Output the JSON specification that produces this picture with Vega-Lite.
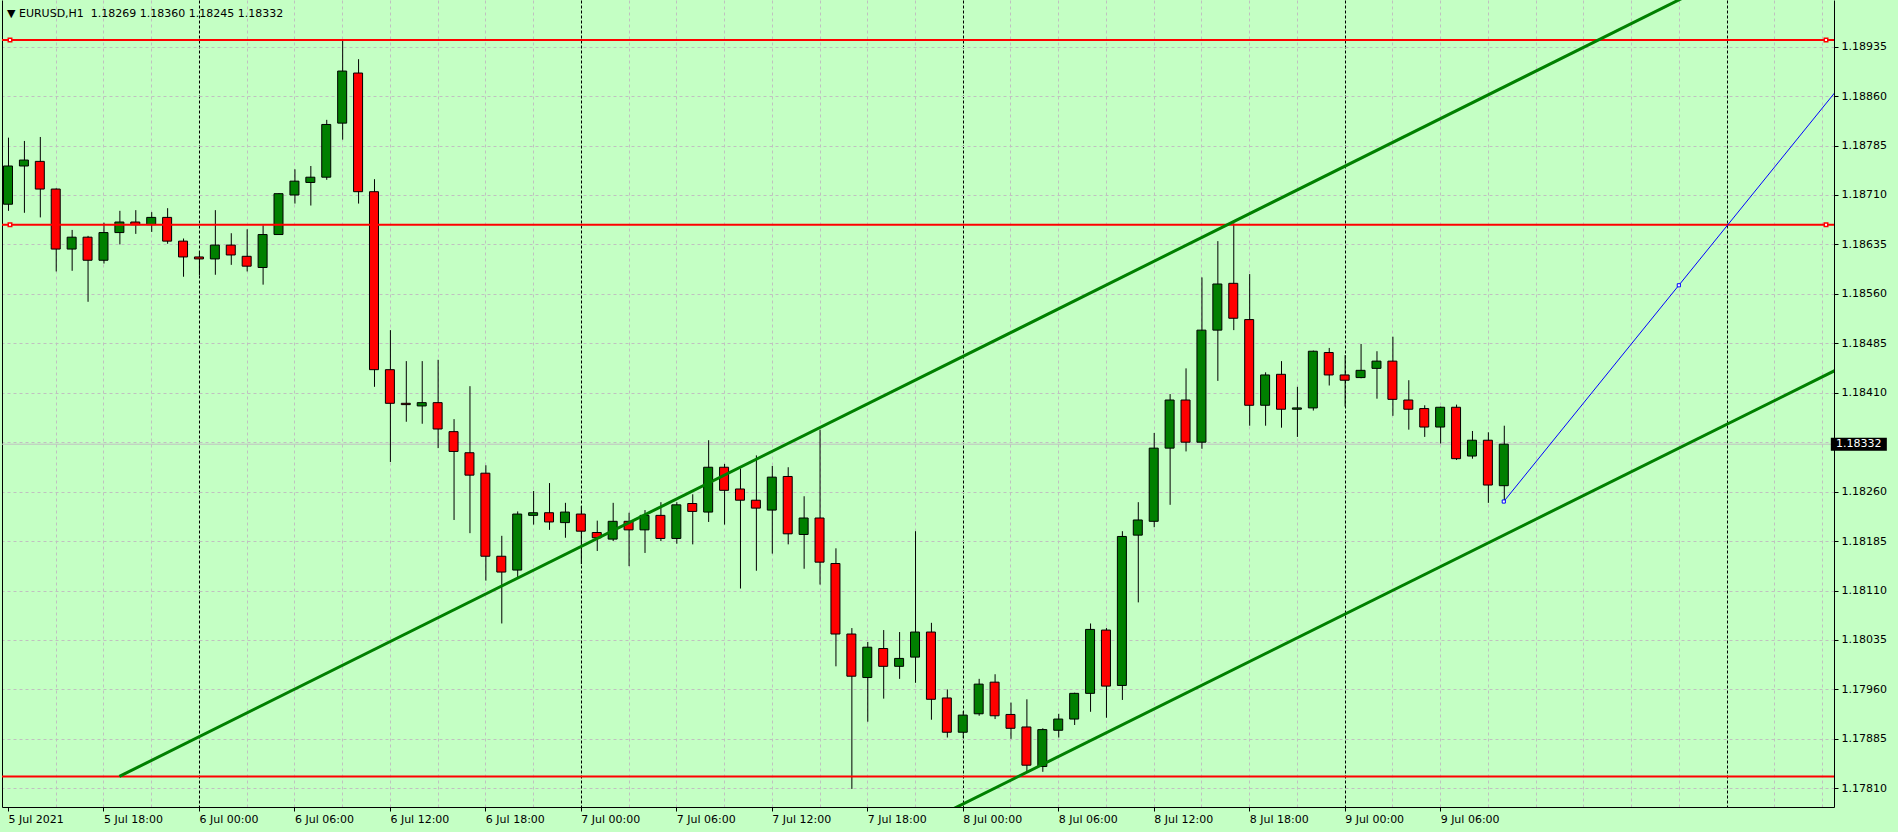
{
 "$schema": "https://vega.github.io/schema/vega-lite/v6.json",
 "width": 1832, "height": 807,
 "padding": {"left": 2, "top": 0, "right": 64, "bottom": 25},
 "autosize": {"type": "none"},
 "background": "#C4FFC4",
 "config": {"view": {"stroke": null}, "axis": {"labelFont": "DejaVu Sans", "labelFontSize": 11, "labelColor": "#000000"}},
 "title": {"text": "▼ EURUSD,H1\u00a0\u00a01.18269 1.18360 1.18245 1.18332", "anchor": "start", "frame": "group", "orient": "top", "offset": 0, "dx": 5, "dy": 28, "baseline": "alphabetic", "font": "DejaVu Sans", "fontSize": 11, "fontWeight": "normal", "color": "#000000"},
 "datasets": {
  "candles": [
   {"t":"2021-07-05T12:00Z","o":1.18696,"h":1.18797,"l":1.18686,"c":1.18754},
   {"t":"2021-07-05T13:00Z","o":1.18754,"h":1.18792,"l":1.18683,"c":1.18763},
   {"t":"2021-07-05T14:00Z","o":1.18761,"h":1.18798,"l":1.18676,"c":1.18719},
   {"t":"2021-07-05T15:00Z","o":1.18719,"h":1.18720,"l":1.18594,"c":1.18628},
   {"t":"2021-07-05T16:00Z","o":1.18628,"h":1.18657,"l":1.18595,"c":1.18646},
   {"t":"2021-07-05T17:00Z","o":1.18646,"h":1.18648,"l":1.18548,"c":1.18611},
   {"t":"2021-07-05T18:00Z","o":1.18611,"h":1.18668,"l":1.18606,"c":1.18653},
   {"t":"2021-07-05T19:00Z","o":1.18653,"h":1.18686,"l":1.18635,"c":1.18669},
   {"t":"2021-07-05T20:00Z","o":1.18669,"h":1.18687,"l":1.18651,"c":1.18665},
   {"t":"2021-07-05T21:00Z","o":1.18665,"h":1.18684,"l":1.18654,"c":1.18676},
   {"t":"2021-07-05T22:00Z","o":1.18676,"h":1.18690,"l":1.18636,"c":1.18640},
   {"t":"2021-07-05T23:00Z","o":1.18640,"h":1.18644,"l":1.18586,"c":1.18616},
   {"t":"2021-07-06T00:00Z","o":1.18616,"h":1.18625,"l":1.18588,"c":1.18613},
   {"t":"2021-07-06T01:00Z","o":1.18613,"h":1.18687,"l":1.18589,"c":1.18634},
   {"t":"2021-07-06T02:00Z","o":1.18634,"h":1.18652,"l":1.18604,"c":1.18619},
   {"t":"2021-07-06T03:00Z","o":1.18617,"h":1.18658,"l":1.18594,"c":1.18602},
   {"t":"2021-07-06T04:00Z","o":1.18600,"h":1.18664,"l":1.18574,"c":1.18650},
   {"t":"2021-07-06T05:00Z","o":1.18650,"h":1.18713,"l":1.18650,"c":1.18712},
   {"t":"2021-07-06T06:00Z","o":1.18710,"h":1.18749,"l":1.18697,"c":1.18731},
   {"t":"2021-07-06T07:00Z","o":1.18729,"h":1.18754,"l":1.18694,"c":1.18737},
   {"t":"2021-07-06T08:00Z","o":1.18737,"h":1.18824,"l":1.18733,"c":1.18817},
   {"t":"2021-07-06T09:00Z","o":1.18819,"h":1.18944,"l":1.18794,"c":1.18898},
   {"t":"2021-07-06T10:00Z","o":1.18895,"h":1.18916,"l":1.18697,"c":1.18715},
   {"t":"2021-07-06T11:00Z","o":1.18715,"h":1.18734,"l":1.18419,"c":1.18445},
   {"t":"2021-07-06T12:00Z","o":1.18445,"h":1.18505,"l":1.18305,"c":1.18394},
   {"t":"2021-07-06T13:00Z","o":1.18394,"h":1.18458,"l":1.18366,"c":1.18392},
   {"t":"2021-07-06T14:00Z","o":1.18390,"h":1.18458,"l":1.18363,"c":1.18395},
   {"t":"2021-07-06T15:00Z","o":1.18395,"h":1.18460,"l":1.18326,"c":1.18355},
   {"t":"2021-07-06T16:00Z","o":1.18351,"h":1.18370,"l":1.18217,"c":1.18321},
   {"t":"2021-07-06T17:00Z","o":1.18319,"h":1.18420,"l":1.18197,"c":1.18285},
   {"t":"2021-07-06T18:00Z","o":1.18288,"h":1.18300,"l":1.18125,"c":1.18162},
   {"t":"2021-07-06T19:00Z","o":1.18162,"h":1.18193,"l":1.18060,"c":1.18138},
   {"t":"2021-07-06T20:00Z","o":1.18141,"h":1.18230,"l":1.18130,"c":1.18226},
   {"t":"2021-07-06T21:00Z","o":1.18224,"h":1.18261,"l":1.18210,"c":1.18228},
   {"t":"2021-07-06T22:00Z","o":1.18228,"h":1.18273,"l":1.18202,"c":1.18214},
   {"t":"2021-07-06T23:00Z","o":1.18213,"h":1.18243,"l":1.18190,"c":1.18229},
   {"t":"2021-07-07T00:00Z","o":1.18226,"h":1.18238,"l":1.18150,"c":1.18200},
   {"t":"2021-07-07T01:00Z","o":1.18198,"h":1.18216,"l":1.18170,"c":1.18190},
   {"t":"2021-07-07T02:00Z","o":1.18188,"h":1.18243,"l":1.18185,"c":1.18215},
   {"t":"2021-07-07T03:00Z","o":1.18215,"h":1.18228,"l":1.18147,"c":1.18202},
   {"t":"2021-07-07T04:00Z","o":1.18202,"h":1.18232,"l":1.18167,"c":1.18224},
   {"t":"2021-07-07T05:00Z","o":1.18224,"h":1.18244,"l":1.18185,"c":1.18189},
   {"t":"2021-07-07T06:00Z","o":1.18189,"h":1.18244,"l":1.18181,"c":1.18240},
   {"t":"2021-07-07T07:00Z","o":1.18242,"h":1.18256,"l":1.18180,"c":1.18230},
   {"t":"2021-07-07T08:00Z","o":1.18229,"h":1.18338,"l":1.18214,"c":1.18297},
   {"t":"2021-07-07T09:00Z","o":1.18297,"h":1.18302,"l":1.18210,"c":1.18262},
   {"t":"2021-07-07T10:00Z","o":1.18264,"h":1.18295,"l":1.18113,"c":1.18247},
   {"t":"2021-07-07T11:00Z","o":1.18247,"h":1.18315,"l":1.18140,"c":1.18235},
   {"t":"2021-07-07T12:00Z","o":1.18232,"h":1.18299,"l":1.18166,"c":1.18282},
   {"t":"2021-07-07T13:00Z","o":1.18283,"h":1.18297,"l":1.18180,"c":1.18196},
   {"t":"2021-07-07T14:00Z","o":1.18195,"h":1.18253,"l":1.18143,"c":1.18220},
   {"t":"2021-07-07T15:00Z","o":1.18220,"h":1.18354,"l":1.18119,"c":1.18153},
   {"t":"2021-07-07T16:00Z","o":1.18151,"h":1.18174,"l":1.17995,"c":1.18044},
   {"t":"2021-07-07T17:00Z","o":1.18044,"h":1.18053,"l":1.17809,"c":1.17980},
   {"t":"2021-07-07T18:00Z","o":1.17978,"h":1.18032,"l":1.17911,"c":1.18024},
   {"t":"2021-07-07T19:00Z","o":1.18022,"h":1.18050,"l":1.17946,"c":1.17995},
   {"t":"2021-07-07T20:00Z","o":1.17995,"h":1.18047,"l":1.17976,"c":1.18007},
   {"t":"2021-07-07T21:00Z","o":1.18009,"h":1.18200,"l":1.17970,"c":1.18047},
   {"t":"2021-07-07T22:00Z","o":1.18047,"h":1.18061,"l":1.17914,"c":1.17945},
   {"t":"2021-07-07T23:00Z","o":1.17947,"h":1.17960,"l":1.17887,"c":1.17895},
   {"t":"2021-07-08T00:00Z","o":1.17895,"h":1.17927,"l":1.17886,"c":1.17921},
   {"t":"2021-07-08T01:00Z","o":1.17923,"h":1.17976,"l":1.17920,"c":1.17968},
   {"t":"2021-07-08T02:00Z","o":1.17971,"h":1.17983,"l":1.17915,"c":1.17920},
   {"t":"2021-07-08T03:00Z","o":1.17922,"h":1.17940,"l":1.17885,"c":1.17901},
   {"t":"2021-07-08T04:00Z","o":1.17903,"h":1.17945,"l":1.17834,"c":1.17845},
   {"t":"2021-07-08T05:00Z","o":1.17843,"h":1.17901,"l":1.17835,"c":1.17899},
   {"t":"2021-07-08T06:00Z","o":1.17898,"h":1.17923,"l":1.17887,"c":1.17915},
   {"t":"2021-07-08T07:00Z","o":1.17915,"h":1.17955,"l":1.17906,"c":1.17954},
   {"t":"2021-07-08T08:00Z","o":1.17954,"h":1.18060,"l":1.17926,"c":1.18051},
   {"t":"2021-07-08T09:00Z","o":1.18050,"h":1.18053,"l":1.17917,"c":1.17965},
   {"t":"2021-07-08T10:00Z","o":1.17966,"h":1.18200,"l":1.17944,"c":1.18192},
   {"t":"2021-07-08T11:00Z","o":1.18194,"h":1.18244,"l":1.18092,"c":1.18217},
   {"t":"2021-07-08T12:00Z","o":1.18215,"h":1.18349,"l":1.18206,"c":1.18326},
   {"t":"2021-07-08T13:00Z","o":1.18326,"h":1.18408,"l":1.18240,"c":1.18399},
   {"t":"2021-07-08T14:00Z","o":1.18399,"h":1.18447,"l":1.18321,"c":1.18335},
   {"t":"2021-07-08T15:00Z","o":1.18335,"h":1.18585,"l":1.18325,"c":1.18505},
   {"t":"2021-07-08T16:00Z","o":1.18505,"h":1.18640,"l":1.18428,"c":1.18575},
   {"t":"2021-07-08T17:00Z","o":1.18576,"h":1.18667,"l":1.18505,"c":1.18523},
   {"t":"2021-07-08T18:00Z","o":1.18521,"h":1.18590,"l":1.18360,"c":1.18391},
   {"t":"2021-07-08T19:00Z","o":1.18391,"h":1.18441,"l":1.18360,"c":1.18437},
   {"t":"2021-07-08T20:00Z","o":1.18438,"h":1.18458,"l":1.18357,"c":1.18385},
   {"t":"2021-07-08T21:00Z","o":1.18385,"h":1.18419,"l":1.18343,"c":1.18387},
   {"t":"2021-07-08T22:00Z","o":1.18387,"h":1.18474,"l":1.18383,"c":1.18473},
   {"t":"2021-07-08T23:00Z","o":1.18471,"h":1.18478,"l":1.18421,"c":1.18437},
   {"t":"2021-07-09T00:00Z","o":1.18437,"h":1.18467,"l":1.18389,"c":1.18429},
   {"t":"2021-07-09T01:00Z","o":1.18433,"h":1.18484,"l":1.18432,"c":1.18444},
   {"t":"2021-07-09T02:00Z","o":1.18447,"h":1.18473,"l":1.18401,"c":1.18458},
   {"t":"2021-07-09T03:00Z","o":1.18458,"h":1.18495,"l":1.18375,"c":1.18400},
   {"t":"2021-07-09T04:00Z","o":1.18399,"h":1.18429,"l":1.18354,"c":1.18385},
   {"t":"2021-07-09T05:00Z","o":1.18386,"h":1.18391,"l":1.18343,"c":1.18358},
   {"t":"2021-07-09T06:00Z","o":1.18358,"h":1.18389,"l":1.18333,"c":1.18388},
   {"t":"2021-07-09T07:00Z","o":1.18388,"h":1.18392,"l":1.18308,"c":1.18310},
   {"t":"2021-07-09T08:00Z","o":1.18314,"h":1.18352,"l":1.18310,"c":1.18338},
   {"t":"2021-07-09T09:00Z","o":1.18338,"h":1.18350,"l":1.18243,"c":1.18270},
   {"t":"2021-07-09T10:00Z","o":1.18269,"h":1.18360,"l":1.18245,"c":1.18332}
  ],
  "hlines": [{"p":1.18945},{"p":1.18665},{"p":1.17828}],
  "redmarks": [
   {"t":"2021-07-05T12:07:30Z","p":1.18945},{"t":"2021-07-10T06:15:00Z","p":1.18945},
   {"t":"2021-07-05T12:07:30Z","p":1.18665},{"t":"2021-07-10T06:15:00Z","p":1.18665}
  ],
  "channel": [
   {"id":"upper","t":"2021-07-05T19:00Z","p":1.17828},{"id":"upper","t":"2021-07-10T02:00Z","p":1.19066},
   {"id":"lower","t":"2021-07-07T19:00Z","p":1.17726},{"id":"lower","t":"2021-07-10T08:00Z","p":1.18458}
  ],
  "blue": [{"t":"2021-07-09T10:00Z","p":1.18245},{"t":"2021-07-09T21:00Z","p":1.18573},{"t":"2021-07-10T08:00Z","p":1.18901}],
  "bluemarks": [{"t":"2021-07-09T10:00Z","p":1.18245},{"t":"2021-07-09T21:00Z","p":1.18573}],
  "bid": [{"p":1.18332,"label":"1.18332"}]
 },
 "resolve": {"axis": {"x": "independent", "y": "independent"}},
 "layer": [
  {
   "data": {"name": "bid"},
   "mark": {"type": "rule", "color": "#C0C0C0", "strokeWidth": 1},
   "encoding": {"y": {"field": "p", "type": "quantitative", "axis": null, "scale": {"domain": [1.177816, 1.190058], "nice": false, "zero": false}}}
  },
  {
   "data": {"name": "candles"},
   "mark": {"type": "rule", "color": "#000000", "strokeWidth": 1, "xOffset": 0.5},
   "encoding": {
    "x": {"field": "t", "type": "temporal",
     "scale": {"type": "utc", "domain": [{"year":2021,"month":7,"date":5,"hours":11,"minutes":56,"seconds":15,"utc":true},{"year":2021,"month":7,"date":10,"hours":6,"minutes":26,"seconds":15,"utc":true}]},
     "axis": {"orient": "bottom", "title": null,
      "values": [1625486400000, 1625508000000, 1625529600000, 1625551200000, 1625572800000, 1625594400000, 1625616000000, 1625637600000, 1625659200000, 1625680800000, 1625702400000, 1625724000000, 1625745600000, 1625767200000, 1625788800000, 1625810400000],
      "grid": false, "tickColor": "#000000", "tickSize": 4, "domainColor": "#000000",
      "labelAlign": "left", "labelBaseline": "top", "labelFlush": false, "labelOverlap": false, "labelPadding": 2,
      "labelExpr": "time(datum.value) < 1625490000000 ? '5 Jul 2021' : utcFormat(datum.value, '%-d %b %H:%M')"}},
    "y": {"field": "l", "type": "quantitative", "scale": {"domain": [1.177816, 1.190058], "nice": false, "zero": false},
     "axis": {"orient": "right", "title": null,
      "values": [1.1781, 1.17885, 1.1796, 1.18035, 1.1811, 1.18185, 1.1826, 1.18335, 1.1841, 1.18485, 1.1856, 1.18635, 1.1871, 1.18785, 1.1886, 1.18935],
      "format": ".5f", "labelExpr": "abs(datum.value - 1.18335) < 0.00001 ? '' : datum.label",
      "grid": true, "gridColor": "#C0C0C0", "gridDash": [3, 3], "gridWidth": 1,
      "tickColor": "#000000", "tickSize": 4, "domainColor": "#000000", "labelPadding": 3, "labelOverlap": false, "labelFlush": false}},
    "y2": {"field": "h"}
   }
  },
  {
   "data": {"name": "candles"},
   "mark": {"type": "bar", "width": 9, "stroke": "#000000", "strokeWidth": 1, "opacity": 1},
   "encoding": {
    "x": {"field": "t", "type": "temporal",
     "scale": {"type": "utc", "domain": [{"year":2021,"month":7,"date":5,"hours":11,"minutes":56,"seconds":15,"utc":true},{"year":2021,"month":7,"date":10,"hours":6,"minutes":26,"seconds":15,"utc":true}]},
     "axis": {"orient": "bottom", "title": null, "labels": false, "ticks": false, "domain": false,
      "values": [1625497200000, 1625508000000, 1625518800000, 1625540400000, 1625551200000, 1625562000000, 1625572800000, 1625583600000, 1625594400000, 1625605200000, 1625626800000, 1625637600000, 1625648400000, 1625659200000, 1625670000000, 1625680800000, 1625691600000, 1625713200000, 1625724000000, 1625734800000, 1625745600000, 1625756400000, 1625767200000, 1625778000000, 1625799600000, 1625810400000, 1625821200000, 1625832000000, 1625842800000, 1625853600000, 1625864400000, 1625886000000, 1625896800000],
      "grid": true, "gridColor": "#C0C0C0", "gridDash": [3, 3], "gridWidth": 1}},
    "y": {"field": "o", "type": "quantitative", "scale": {"domain": [1.177816, 1.190058], "nice": false, "zero": false},
     "axis": {"orient": "left", "title": null, "labels": false, "ticks": false, "grid": false, "domain": true, "domainColor": "#000000"}},
    "y2": {"field": "c"},
    "fill": {"condition": {"test": "datum.c >= datum.o", "value": "#008000"}, "value": "#FF0000"}
   }
  },
  {
   "data": {"name": "hlines"},
   "mark": {"type": "rule", "color": "#FF0000", "strokeWidth": 2},
   "encoding": {"y": {"field": "p", "type": "quantitative", "axis": null, "scale": {"domain": [1.177816, 1.190058], "nice": false, "zero": false}}}
  },
  {
   "data": {"name": "channel"},
   "mark": {"type": "line", "color": "#008000", "strokeWidth": 3, "clip": true},
   "encoding": {
    "x": {"field": "t", "type": "temporal",
     "scale": {"type": "utc", "domain": [{"year":2021,"month":7,"date":5,"hours":11,"minutes":56,"seconds":15,"utc":true},{"year":2021,"month":7,"date":10,"hours":6,"minutes":26,"seconds":15,"utc":true}]},
     "axis": {"orient": "bottom", "title": null, "labels": false, "ticks": false, "domain": false,
      "values": [1625529600000, 1625616000000, 1625702400000, 1625788800000, 1625875200000],
      "grid": true, "gridColor": "#000000", "gridDash": [3, 2], "gridWidth": 1}},
    "y": {"field": "p", "type": "quantitative", "axis": null, "scale": {"domain": [1.177816, 1.190058], "nice": false, "zero": false}},
    "detail": {"field": "id"}
   }
  },
  {
   "data": {"name": "blue"},
   "mark": {"type": "line", "color": "#0000FF", "strokeWidth": 1, "clip": true},
   "encoding": {
    "x": {"field": "t", "type": "temporal", "axis": null,
     "scale": {"type": "utc", "domain": [{"year":2021,"month":7,"date":5,"hours":11,"minutes":56,"seconds":15,"utc":true},{"year":2021,"month":7,"date":10,"hours":6,"minutes":26,"seconds":15,"utc":true}]}},
    "y": {"field": "p", "type": "quantitative", "axis": null, "scale": {"domain": [1.177816, 1.190058], "nice": false, "zero": false}}
   }
  },
  {
   "data": {"name": "redmarks"},
   "mark": {"type": "point", "shape": "square", "size": 12, "filled": false, "fill": "#FFFFFF", "stroke": "#FF0000", "strokeWidth": 1.5, "opacity": 1},
   "encoding": {
    "x": {"field": "t", "type": "temporal", "axis": null,
     "scale": {"type": "utc", "domain": [{"year":2021,"month":7,"date":5,"hours":11,"minutes":56,"seconds":15,"utc":true},{"year":2021,"month":7,"date":10,"hours":6,"minutes":26,"seconds":15,"utc":true}]}},
    "y": {"field": "p", "type": "quantitative", "axis": null, "scale": {"domain": [1.177816, 1.190058], "nice": false, "zero": false}}
   }
  },
  {
   "data": {"name": "bluemarks"},
   "mark": {"type": "point", "shape": "square", "size": 10, "filled": false, "fill": "#FFFFFF", "stroke": "#0000FF", "strokeWidth": 1, "opacity": 1},
   "encoding": {
    "x": {"field": "t", "type": "temporal", "axis": null,
     "scale": {"type": "utc", "domain": [{"year":2021,"month":7,"date":5,"hours":11,"minutes":56,"seconds":15,"utc":true},{"year":2021,"month":7,"date":10,"hours":6,"minutes":26,"seconds":15,"utc":true}]}},
    "y": {"field": "p", "type": "quantitative", "axis": null, "scale": {"domain": [1.177816, 1.190058], "nice": false, "zero": false}}
   }
  },
  {
   "data": {"name": "bid"},
   "mark": {"type": "tick", "orient": "horizontal", "thickness": 13, "size": 56, "color": "#000000", "opacity": 1},
   "encoding": {
    "x": {"datum": {"year":2021,"month":7,"date":10,"hours":8,"minutes":18,"seconds":45,"utc":true}, "type": "temporal", "axis": null,
     "scale": {"type": "utc", "domain": [{"year":2021,"month":7,"date":5,"hours":11,"minutes":56,"seconds":15,"utc":true},{"year":2021,"month":7,"date":10,"hours":6,"minutes":26,"seconds":15,"utc":true}]}},
    "y": {"field": "p", "type": "quantitative", "axis": null, "scale": {"domain": [1.177816, 1.190058], "nice": false, "zero": false}}
   }
  },
  {
   "data": {"name": "bid"},
   "mark": {"type": "text", "align": "center", "baseline": "middle", "font": "DejaVu Sans", "fontSize": 11, "color": "#FFFFFF"},
   "encoding": {
    "x": {"datum": {"year":2021,"month":7,"date":10,"hours":8,"minutes":18,"seconds":45,"utc":true}, "type": "temporal", "axis": null,
     "scale": {"type": "utc", "domain": [{"year":2021,"month":7,"date":5,"hours":11,"minutes":56,"seconds":15,"utc":true},{"year":2021,"month":7,"date":10,"hours":6,"minutes":26,"seconds":15,"utc":true}]}},
    "y": {"field": "p", "type": "quantitative", "axis": null, "scale": {"domain": [1.177816, 1.190058], "nice": false, "zero": false}},
    "text": {"field": "label"}
   }
  }
 ]
}
